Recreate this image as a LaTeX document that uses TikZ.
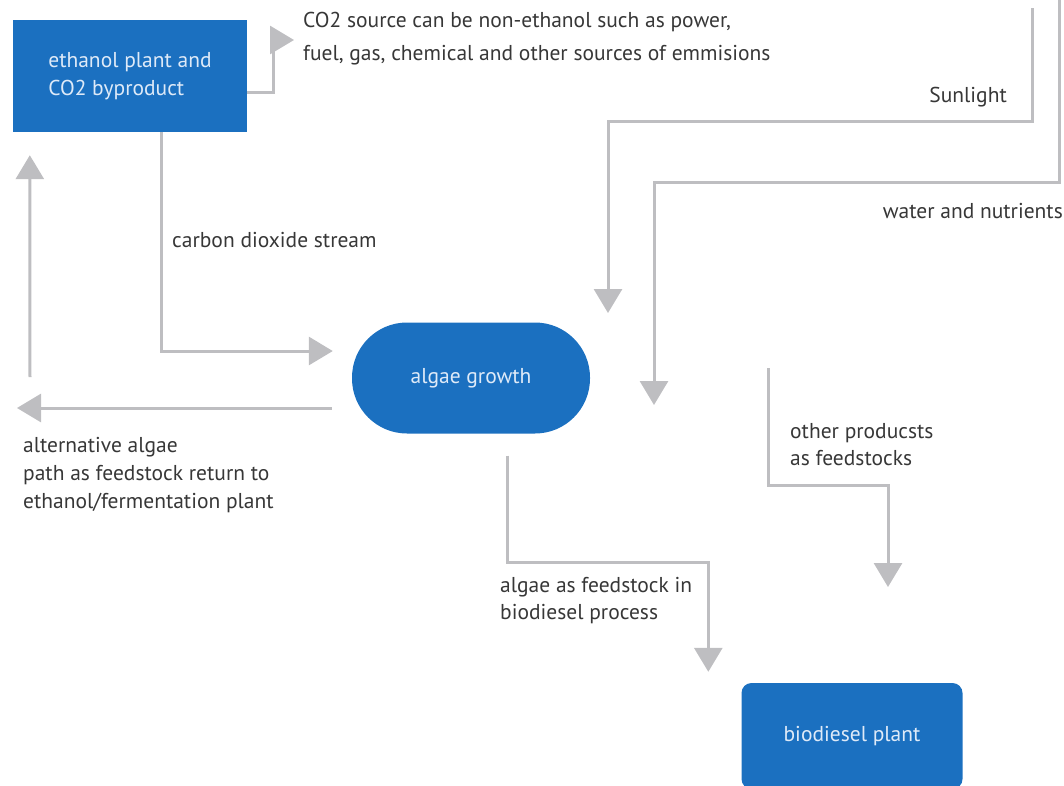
\documentclass[tikz,border=0pt]{standalone}
\usepackage{fontspec}
\setmainfont{PT Sans}
\usetikzlibrary{arrows.meta,positioning}
\definecolor{plantblue}{RGB}{27,112,192}
\definecolor{flowgray}{RGB}{190,190,193}
\definecolor{notegray}{RGB}{55,55,55}
\definecolor{boxtext}{RGB}{222,234,248}
\tikzset{
    blue-box/.style = {fill=plantblue, text=boxtext, rectangle, align=left, font=\fontsize{21.5}{28}\selectfont},
    blue-pill/.style = {blue-box, rounded corners=55pt, minimum width=238pt, minimum height=111pt},
    flow-arrow/.style = {draw=flowgray, line width=3pt, -{Triangle[length=24pt,width=28pt]}},
    note-text/.style = {text=notegray, align=left, anchor=west, inner sep=0pt, font=\fontsize{21.5}{27}\selectfont},
}

\begin{document}
\begin{tikzpicture}[x=1pt,y=-1pt]
\useasboundingbox (0,0) rectangle (1064,785);
\node[blue-box, minimum width=234pt, minimum height=112pt] (ethanol) at (130,76) {ethanol plant and\\CO2 byproduct};
\node[blue-pill] (algae) at (471,378) {algae growth};
\node[blue-box, rounded corners=10pt, minimum width=221pt, minimum height=106pt] (biodiesel) at (852,736) {biodiesel plant};

\coordinate (sun-top) at (1032,8);
\coordinate (sun-end) at (608,313);
\coordinate (water-top) at (1059,0);
\coordinate (water-end) at (654,405);
\coordinate (other-top) at (768,368);
\coordinate (other-end) at (888,587);
\coordinate (co2-bend) at (273,40);
\coordinate (return-end) at (17,408);
\coordinate (return-start) at (30,377);

\draw[flow-arrow] ([yshift=-16pt]ethanol.east) -| (co2-bend) -- ++(21,0);
\draw[flow-arrow] ([xshift=31pt]ethanol.south) |- ([xshift=-19pt,yshift=27pt]algae.west);
\draw[flow-arrow] ([xshift=-20pt,yshift=-30pt]algae.west) -- (return-end);
\draw[flow-arrow] (return-start) -- ([xshift=17pt,yshift=-23pt]ethanol.south west);
\draw[flow-arrow] (sun-top) -- ++(0,113) -| (sun-end);
\draw[flow-arrow] (water-top) -- ++(0,182) -| (water-end);
\draw[flow-arrow] (other-top) -- ++(0,117) -| (other-end);
\draw[flow-arrow] ([xshift=36pt,yshift=-22pt]algae.south) -- ++(0,107) -| ([xshift=-33pt,yshift=11pt]biodiesel.north west);

\node[note-text, font=\fontsize{21.5}{33}\selectfont] (co2-note) at (303,39) {CO2 source can be non-ethanol such as power,\\fuel, gas, chemical and other sources of emmisions};
\node[note-text, anchor=east] (sun-label) at (1007,97) {Sunlight};
\node[note-text, anchor=east] (water-label) at (1063,211) {water and nutrients};
\node[note-text] (co2-label) at (172,240) {carbon dioxide stream};
\node[note-text, font=\fontsize{21.5}{28}\selectfont] (return-label) at (23,475) {alternative algae\\path as feedstock return to\\ethanol/fermentation plant};
\node[note-text] (other-label) at (790,445) {other producsts\\as feedstocks};
\node[note-text] (feed-label) at (500,601) {algae as feedstock in\\biodiesel process};
\end{tikzpicture}
\end{document}
